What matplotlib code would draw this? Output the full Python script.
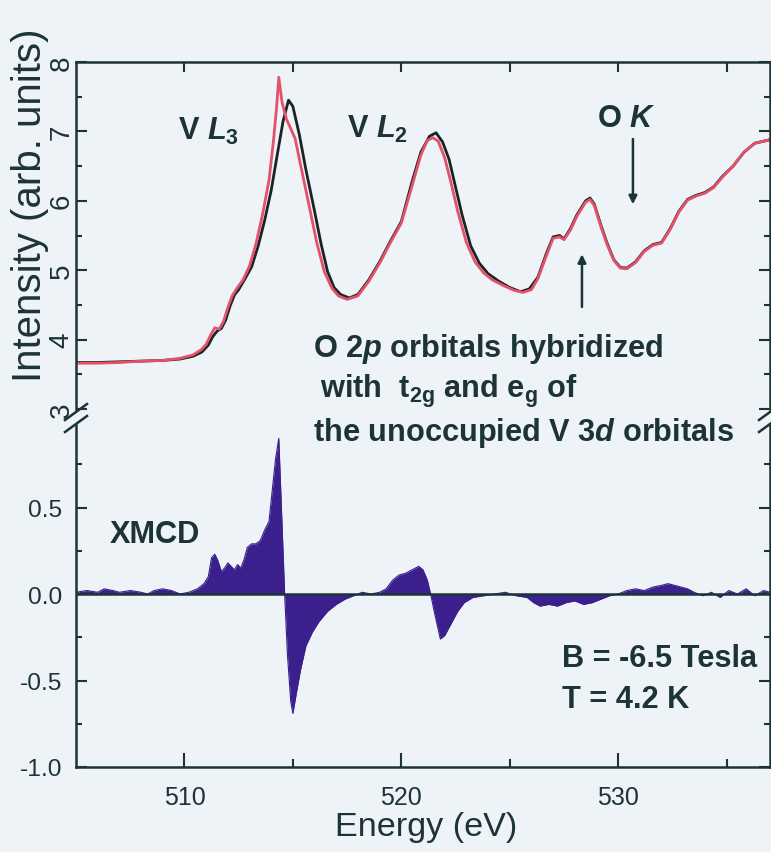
import matplotlib
matplotlib.use("Agg")
import matplotlib.pyplot as plt
from matplotlib import font_manager
from matplotlib.lines import Line2D

# ---- XAS spectra (two helicities), V L2,3 and O K edges ----
energy_black = [505.0, 506.0, 507.0, 508.0, 509.0, 509.8, 510.4, 510.8, 511.1, 511.3,
                511.5, 511.7, 511.9, 512.1, 512.3, 512.5, 512.8, 513.1, 513.4, 513.7,
                514.0, 514.3, 514.55, 514.8, 515.0, 515.3, 515.6, 516.0, 516.3, 516.6,
                516.9, 517.2, 517.6, 518.0, 518.5, 519.0, 519.5, 520.0, 520.5, 520.9,
                521.3, 521.6, 521.9, 522.2, 522.5, 522.8, 523.2, 523.6, 524.0, 524.5,
                525.0, 525.5, 525.9, 526.3, 526.7, 527.0, 527.3, 527.5, 527.8, 528.1,
                528.5, 528.7, 528.9, 529.2, 529.5, 529.8, 530.1, 530.4, 530.8, 531.2,
                531.6, 532.0, 532.4, 532.8, 533.2, 533.6, 534.0, 534.4, 534.8, 535.3,
                535.8, 536.3, 537.0]
intensity_black = [3.67, 3.67, 3.68, 3.69, 3.70, 3.72, 3.76, 3.82, 3.92, 4.04,
                   4.12, 4.16, 4.28, 4.48, 4.64, 4.72, 4.88, 5.05, 5.35, 5.72,
                   6.15, 6.70, 7.15, 7.45, 7.36, 6.95, 6.45, 5.85, 5.38, 4.98,
                   4.75, 4.65, 4.60, 4.65, 4.86, 5.12, 5.42, 5.70, 6.28, 6.70,
                   6.93, 6.98, 6.85, 6.60, 6.20, 5.80, 5.35, 5.10, 4.95, 4.84,
                   4.75, 4.69, 4.73, 4.90, 5.25, 5.48, 5.50, 5.45, 5.60, 5.80,
                   6.00, 6.04, 5.95, 5.65, 5.38, 5.15, 5.04, 5.03, 5.12, 5.28,
                   5.37, 5.40, 5.60, 5.85, 6.02, 6.08, 6.12, 6.20, 6.35, 6.50,
                   6.70, 6.83, 6.88]

energy_red = [505.0, 506.0, 507.0, 508.0, 509.0, 509.8, 510.4, 510.8, 511.0, 511.2,
              511.4, 511.6, 511.8, 512.0, 512.2, 512.4, 512.7, 513.0, 513.3, 513.6,
              513.9, 514.1, 514.25, 514.35, 514.5, 514.7, 515.1, 515.4, 515.8, 516.1,
              516.45, 516.8, 517.1, 517.5, 518.0, 518.5, 519.0, 519.5, 520.0, 520.5,
              520.9, 521.2, 521.45, 521.7, 522.0, 522.3, 522.6, 523.0, 523.4, 523.8,
              524.2, 524.7, 525.2, 525.6, 526.0, 526.3, 526.7, 527.0, 527.3, 527.5,
              527.8, 528.1, 528.5, 528.7, 528.9, 529.2, 529.5, 529.8, 530.1, 530.4,
              530.8, 531.2, 531.6, 532.0, 532.4, 532.8, 533.2, 533.6, 534.0, 534.4,
              534.8, 535.3, 535.8, 536.3, 537.0]
intensity_red = [3.66, 3.66, 3.67, 3.69, 3.70, 3.73, 3.78, 3.86, 3.93, 4.06,
                 4.17, 4.15, 4.26, 4.46, 4.63, 4.73, 4.86, 5.06, 5.38, 5.80,
                 6.30, 6.85, 7.35, 7.78, 7.42, 7.18, 6.90, 6.45, 5.85, 5.40,
                 4.98, 4.74, 4.63, 4.58, 4.63, 4.84, 5.10, 5.40, 5.68, 6.22,
                 6.66, 6.87, 6.91, 6.86, 6.62, 6.25, 5.85, 5.40, 5.12, 4.96,
                 4.86, 4.78, 4.71, 4.68, 4.72, 4.88, 5.22, 5.46, 5.48, 5.44,
                 5.58, 5.78, 5.98, 6.02, 5.93, 5.63, 5.36, 5.14, 5.03, 5.02,
                 5.11, 5.27, 5.36, 5.39, 5.59, 5.84, 6.01, 6.07, 6.11, 6.19,
                 6.34, 6.50, 6.70, 6.83, 6.88]

# ---- XMCD difference spectrum ----
energy_xmcd = [505.0, 505.5, 506.0, 506.3, 506.7, 507.0, 507.5, 508.0, 508.3, 508.6,
               509.0, 509.4, 509.8, 510.2, 510.6, 510.9, 511.1, 511.25, 511.4, 511.55,
               511.7, 511.85, 512.0, 512.15, 512.3, 512.45, 512.6, 512.75, 512.9, 513.1,
               513.3, 513.5, 513.7, 513.9, 514.05, 514.2, 514.35, 514.5, 514.62, 514.75,
               514.9, 515.0, 515.15, 515.35, 515.6, 515.9, 516.2, 516.6, 517.0, 517.4,
               517.8, 518.2, 518.6, 519.0, 519.3, 519.6, 519.9, 520.2, 520.5, 520.8,
               521.0, 521.2, 521.35, 521.55, 521.8, 522.0, 522.3, 522.6, 522.9, 523.3,
               523.8, 524.3, 524.8, 525.3, 525.8, 526.1, 526.4, 526.8, 527.2, 527.6,
               528.0, 528.4, 528.8, 529.2, 529.6, 530.0, 530.4, 530.8, 531.2, 531.6,
               532.0, 532.3, 532.6, 532.9, 533.2, 533.5, 533.9, 534.3, 534.7, 535.1,
               535.5, 535.9, 536.3, 536.7, 537.0]
xmcd = [0.01, 0.02, 0.01, 0.03, 0.02, 0.01, 0.02, 0.01, 0.00, 0.02,
        0.03, 0.02, 0.00, 0.01, 0.03, 0.06, 0.10, 0.21, 0.23, 0.19,
        0.13, 0.15, 0.18, 0.16, 0.14, 0.17, 0.15, 0.20, 0.27, 0.29,
        0.29, 0.31, 0.37, 0.42, 0.60, 0.78, 0.90, 0.40, 0.00, -0.35,
        -0.62, -0.69, -0.58, -0.44, -0.30, -0.22, -0.16, -0.10, -0.06, -0.03,
        -0.01, 0.01, 0.00, 0.01, 0.03, 0.08, 0.11, 0.12, 0.14, 0.16,
        0.14, 0.08, 0.00, -0.12, -0.26, -0.24, -0.17, -0.10, -0.05, -0.02,
        -0.01, 0.00, 0.01, -0.01, -0.02, -0.05, -0.07, -0.06, -0.07, -0.05,
        -0.04, -0.06, -0.05, -0.03, -0.01, 0.00, 0.02, 0.03, 0.02, 0.04,
        0.05, 0.06, 0.05, 0.04, 0.03, 0.01, -0.01, 0.01, -0.02, 0.02,
        0.00, 0.03, -0.01, 0.02, 0.01]

# ---- axis ticks ----
upper_yticks = [3, 4, 5, 6, 7, 8]
upper_yticklabels = ["3", "4", "5", "6", "7", "8"]
lower_yticks = [-1.0, -0.5, 0.0, 0.5]
lower_yticklabels = ["-1.0", "-0.5", "0.0", "0.5"]
energy_ticks = [510, 520, 530]
energy_ticklabels = ["510", "520", "530"]

# ---- style ----
W, H = 771, 853
BG = "#eef3f7"
INK = "#1d3436"
RED = "#e5506b"
FILL = "#3b1f8c"

installed = {f.name for f in font_manager.fontManager.ttflist}
NARROW = "Liberation Sans Narrow" if "Liberation Sans Narrow" in installed else "Liberation Sans"
k = 1.0 if NARROW.endswith("Narrow") else 0.82
REG = "Liberation Sans"

plt.rcParams.update({
    "font.family": [NARROW, "DejaVu Sans"],
    "mathtext.fontset": "custom",
    "mathtext.rm": f"{NARROW}:bold",
    "mathtext.bf": f"{NARROW}:bold",
    "mathtext.it": f"{NARROW}:italic:bold",
    "axes.unicode_minus": False,
    "axes.linewidth": 1.8,
    "axes.edgecolor": INK,
    "text.color": INK,
})

fig = plt.figure(figsize=(W / 100, H / 100), dpi=100, facecolor=BG)


def fx(px):
    return px / W


def fy(py):
    return 1 - py / H


LEFT, RIGHT = 76, 770
ax_up = fig.add_axes([fx(LEFT), fy(410), (RIGHT - LEFT) / W, (410 - 63) / H])
ax_lo = fig.add_axes([fx(LEFT), fy(768), (RIGHT - LEFT) / W, (768 - 426) / H])
for ax in (ax_up, ax_lo):
    ax.set_facecolor(BG)
    ax.set_xlim(505, 537)

# upper panel: absorption spectra
ax_up.plot(energy_black, intensity_black, color="#1a2424", lw=2.0, solid_joinstyle="round")
ax_up.plot(energy_red, intensity_red, color=RED, lw=2.0, solid_joinstyle="round")
ax_up.set_ylim(3, 8)
ax_up.spines["bottom"].set_visible(False)
ax_up.set_xticks([510, 515, 520, 525, 530, 535])
ax_up.tick_params(axis="x", which="both", bottom=False, top=True, labelbottom=False,
                  direction="in", length=7, width=1.5, color=INK)
ax_up.set_yticks(upper_yticks)
ax_up.set_yticklabels(upper_yticklabels, rotation=90, va="center", family=REG,
                      fontsize=20, color=INK)
ax_up.set_yticks([3.5, 4.5, 5.5, 6.5, 7.5], minor=True)
ax_up.tick_params(axis="y", which="both", left=True, right=True, direction="in",
                  width=1.5, color=INK)
ax_up.tick_params(axis="y", which="major", length=8, pad=1)
ax_up.tick_params(axis="y", which="minor", length=4.5)
ax_up.set_ylabel("Intensity (arb. units)", family=REG, fontsize=29, color=INK, va="center")
ax_up.yaxis.set_label_coords(-0.067, 0.59)

# lower panel: XMCD
ax_lo.fill_between(energy_xmcd, xmcd, 0, color=FILL, lw=0, interpolate=True)
ax_lo.plot(energy_xmcd, xmcd, color=FILL, lw=0.8)
ax_lo.axhline(0, color=INK, lw=1.8)
ax_lo.set_ylim(-1.0, 0.977)
ax_lo.spines["top"].set_visible(False)
ax_lo.set_xticks(energy_ticks)
ax_lo.set_xticklabels(energy_ticklabels, fontsize=22 * k, color=INK)
ax_lo.set_xticks([515, 525, 535], minor=True)
ax_lo.tick_params(axis="x", which="both", top=False, bottom=True, direction="in",
                  width=1.5, color=INK)
ax_lo.tick_params(axis="x", which="major", length=10, pad=13)
ax_lo.tick_params(axis="x", which="minor", length=6)
ax_lo.set_yticks(lower_yticks)
ax_lo.set_yticklabels(lower_yticklabels, fontsize=21.5 * k, color=INK)
ax_lo.set_yticks([-0.75, -0.25, 0.25, 0.75], minor=True)
ax_lo.tick_params(axis="y", which="both", left=True, right=True, direction="in",
                  width=1.5, color=INK)
ax_lo.tick_params(axis="y", which="major", length=8, pad=10)
ax_lo.tick_params(axis="y", which="minor", length=4.5)
ax_lo.set_xlabel("Energy (eV)", fontsize=30 * k, color=INK)
ax_lo.xaxis.set_label_coords((426 - LEFT) / (RIGHT - LEFT), -0.13)

# axis-break marks on both vertical spines
for x0 in (LEFT, RIGHT):
    for dy in (0, 12):
        fig.add_artist(Line2D([fx(x0 - 11), fx(x0 + 11)], [fy(421 + dy), fy(405 + dy)],
                              color=INK, lw=1.8, transform=fig.transFigure))

# arrows pointing at the O K features
ax_up.annotate("", xy=(530.68, 5.95), xytext=(530.68, 6.89),
               arrowprops=dict(arrowstyle="-|>", color=INK, lw=1.8, mutation_scale=12,
                               shrinkA=0, shrinkB=0))
ax_up.annotate("", xy=(528.33, 5.23), xytext=(528.33, 4.47),
               arrowprops=dict(arrowstyle="-|>", color=INK, lw=1.8, mutation_scale=12,
                               shrinkA=0, shrinkB=0))

# labels
big = dict(fontsize=27 * k, fontweight="bold", color=INK, va="baseline", ha="left")
fig.text(fx(178), fy(140), r"V $\mathit{L}_{3}$", **big)
fig.text(fx(347), fy(138), r"V $\mathit{L}_{2}$", **big)
fig.text(fx(597), fy(127), r"O $\mathit{K}$", **big)
fig.text(fx(313), fy(357), r"O $\mathit{2p}$ orbitals hybridized", **big)
fig.text(fx(320), fy(398), r"with  t$_{\mathrm{2g}}$ and e$_{\mathrm{g}}$ of", **big)
fig.text(fx(313), fy(441), r"the unoccupied V $\mathit{3d}$ orbitals", **big)
fig.text(fx(110), fy(543), "XMCD", **big)
fig.text(fx(562), fy(667), "B = -6.5 Tesla", **big)
fig.text(fx(562), fy(708), "T = 4.2 K", **big)

fig.savefig("out.png", dpi=100, facecolor=BG)
